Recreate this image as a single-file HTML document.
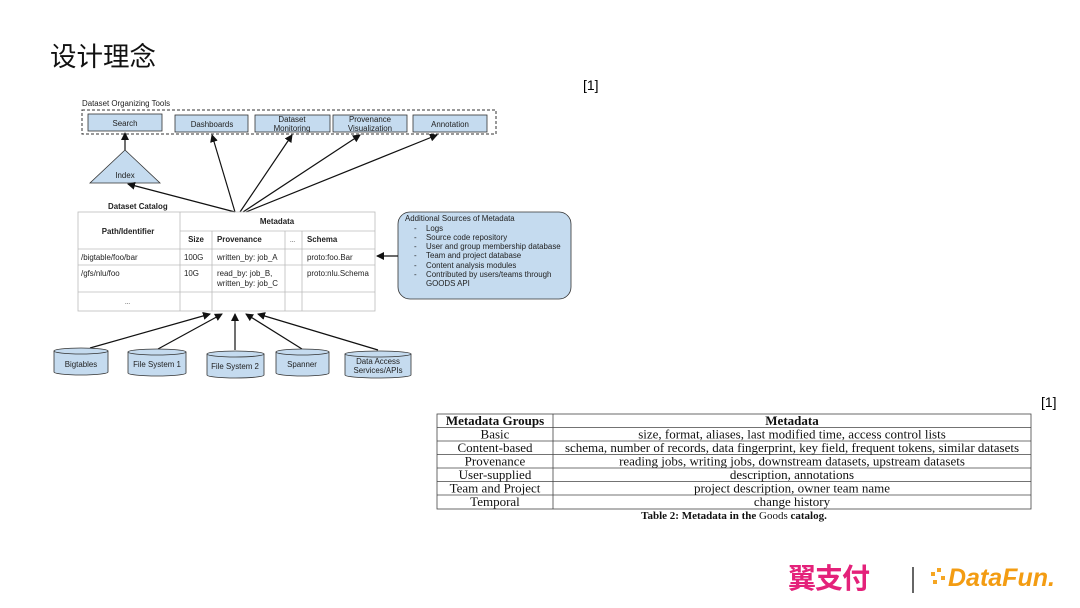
<!DOCTYPE html>
<html><head><meta charset="utf-8"><style>
body{margin:0;background:#fff;width:1080px;height:608px;overflow:hidden;position:relative;font-family:"Liberation Sans","Noto Sans CJK SC",sans-serif}
.t{position:absolute;white-space:nowrap}
</style></head><body>
<div class="t" style="left:50px;top:35px;font-size:26.5px;color:#111">设计理念</div>
<div class="t" style="left:583px;top:77px;font-size:14px">[1]</div>
<div class="t" style="left:1041px;top:394px;font-size:14px">[1]</div>
<svg width="1080" height="608" style="position:absolute;left:0;top:0" font-family="Liberation Sans, sans-serif">
<defs><marker id="a" markerWidth="8" markerHeight="8" refX="7" refY="4" orient="auto" markerUnits="userSpaceOnUse"><path d="M0,0L8,4L0,8z" fill="#111"/></marker></defs>
<g font-size="7.9" fill="#222">
<text x="82" y="106">Dataset Organizing Tools</text>
<rect x="82" y="110" width="414" height="24" fill="none" stroke="#333" stroke-dasharray="3,2"/>
<g fill="#c5dbef" stroke="#333" stroke-width="0.8">
<rect x="88" y="114" width="74" height="17"/><rect x="175" y="115" width="73" height="17"/><rect x="255" y="115" width="75" height="17"/><rect x="333" y="115" width="74" height="17"/><rect x="413" y="115" width="74" height="17"/>
<path d="M125,150L160,183L90,183z"/>
<rect x="398" y="212" width="173" height="87" rx="12"/>
</g>
<g text-anchor="middle">
<text x="125" y="126">Search</text><text x="212" y="127">Dashboards</text><text x="292" y="122">Dataset</text><text x="292" y="131">Monitoring</text>
<text x="370" y="122">Provenance</text><text x="370" y="131">Visualization</text><text x="450" y="127">Annotation</text>
<text x="125" y="178">Index</text>
</g>
<g stroke="#111" stroke-width="1.2" marker-end="url(#a)">
<line x1="125" y1="150" x2="125" y2="133"/>
<line x1="235" y1="212" x2="128" y2="184"/>
<line x1="235" y1="212" x2="212" y2="135"/>
<line x1="240" y1="212" x2="292" y2="135"/>
<line x1="243" y1="212" x2="360" y2="135"/>
<line x1="246" y1="212" x2="437" y2="135"/>
<line x1="398" y1="256" x2="377" y2="256"/>
<line x1="90" y1="348" x2="210" y2="314"/>
<line x1="158" y1="349" x2="222" y2="314"/>
<line x1="235" y1="350" x2="235" y2="314"/>
<line x1="302" y1="349" x2="246" y2="314"/>
<line x1="378" y1="350" x2="258" y2="314"/>
</g>
<text x="108" y="209" font-weight="bold">Dataset Catalog</text>
<g stroke="#bbb" stroke-width="0.8" fill="none">
<rect x="78" y="212" width="297" height="99"/>
<line x1="180" y1="212" x2="180" y2="311"/><line x1="180" y1="231" x2="375" y2="231"/>
<line x1="212" y1="231" x2="212" y2="311"/><line x1="285" y1="231" x2="285" y2="311"/><line x1="302" y1="231" x2="302" y2="311"/>
<line x1="78" y1="249" x2="375" y2="249"/><line x1="78" y1="265" x2="375" y2="265"/><line x1="78" y1="292" x2="375" y2="292"/>
</g>
<g font-weight="bold" text-anchor="middle"><text x="128" y="234">Path/Identifier</text><text x="277" y="224">Metadata</text><text x="196" y="242">Size</text></g>
<text x="217" y="242" font-weight="bold">Provenance</text><text x="290" y="242" font-size="6">...</text><text x="307" y="242" font-weight="bold">Schema</text>
<text x="81" y="260">/bigtable/foo/bar</text><text x="184" y="260">100G</text><text x="217" y="260">written_by: job_A</text><text x="307" y="260">proto:foo.Bar</text>
<text x="81" y="276">/gfs/nlu/foo</text><text x="184" y="276">10G</text><text x="217" y="276">read_by: job_B,</text><text x="217" y="286">written_by: job_C</text><text x="307" y="276">proto:nlu.Schema</text>
<text x="125" y="304" font-size="6">...</text>
<text x="405" y="221">Additional Sources of Metadata</text>
<g><text x="414" y="231">-</text><text x="426" y="231">Logs</text>
<text x="414" y="240">-</text><text x="426" y="240">Source code repository</text>
<text x="414" y="249">-</text><text x="426" y="249">User and group membership database</text>
<text x="414" y="258">-</text><text x="426" y="258">Team and project database</text>
<text x="414" y="268">-</text><text x="426" y="268">Content analysis modules</text>
<text x="414" y="277">-</text><text x="426" y="277">Contributed by users/teams through</text>
<text x="426" y="286">GOODS API</text></g>
<g fill="#c5dbef" stroke="#333" stroke-width="0.8">
<path d="M54,351v21a27,3 0 0 0 54,0v-21z"/><ellipse cx="81" cy="351" rx="27" ry="3"/>
<path d="M128,352v21a29,3 0 0 0 58,0v-21z"/><ellipse cx="157" cy="352" rx="29" ry="3"/>
<path d="M207,354v21a28.5,3 0 0 0 57,0v-21z"/><ellipse cx="235.5" cy="354" rx="28.5" ry="3"/>
<path d="M276,352v21a26.5,3 0 0 0 53,0v-21z"/><ellipse cx="302.5" cy="352" rx="26.5" ry="3"/>
<path d="M345,354v21a33,3 0 0 0 66,0v-21z"/><ellipse cx="378" cy="354" rx="33" ry="3"/>
</g>
<g text-anchor="middle"><text x="81" y="367">Bigtables</text><text x="157" y="367">File System 1</text><text x="235" y="369">File System 2</text><text x="302" y="367">Spanner</text><text x="378" y="364">Data Access</text><text x="378" y="373">Services/APIs</text></g>
</g>
<g font-family="Liberation Serif, serif" font-size="13" fill="#111" text-anchor="middle">
<g stroke="#444" stroke-width="0.8" fill="none">
<rect x="437" y="414" width="594" height="95"/><line x1="553" y1="414" x2="553" y2="509"/>
<line x1="437" y1="427.5" x2="1031" y2="427.5"/><line x1="437" y1="441" x2="1031" y2="441"/><line x1="437" y1="454.5" x2="1031" y2="454.5"/><line x1="437" y1="468" x2="1031" y2="468"/><line x1="437" y1="481.5" x2="1031" y2="481.5"/><line x1="437" y1="495" x2="1031" y2="495"/>
</g>
<text x="495" y="425" font-weight="bold">Metadata Groups</text><text x="792" y="425" font-weight="bold">Metadata</text>
<text x="495" y="438.5">Basic</text><text x="792" y="438.5">size, format, aliases, last modified time, access control lists</text>
<text x="495" y="452">Content-based</text><text x="792" y="452">schema, number of records, data fingerprint, key field, frequent tokens, similar datasets</text>
<text x="495" y="465.5">Provenance</text><text x="792" y="465.5">reading jobs, writing jobs, downstream datasets, upstream datasets</text>
<text x="495" y="479">User-supplied</text><text x="792" y="479">description, annotations</text>
<text x="495" y="492.5">Team and Project</text><text x="792" y="492.5">project description, owner team name</text>
<text x="495" y="506">Temporal</text><text x="792" y="506">change history</text>
<text x="734" y="519" font-size="11" font-weight="bold">Table 2: Metadata in the <tspan font-weight="normal">Goods</tspan> catalog.</text>
</g>
<line x1="913" y1="567" x2="913" y2="593" stroke="#333" stroke-width="1.5"/>
<g fill="#f5a623"><rect x="931" y="572" width="4" height="4"/><rect x="937" y="568" width="4" height="4"/><rect x="933" y="580" width="4" height="4"/><rect x="941" y="576" width="4" height="4"/></g>
</svg>
<div class="t" style="left:788px;top:560px;font-size:28px;font-weight:bold;color:#e4217a;font-family:'Noto Sans CJK SC',sans-serif;line-height:34px;letter-spacing:-1px">翼支付</div>
<div class="t" style="left:948px;top:563px;font-size:25px;font-weight:bold;color:#f39c12;line-height:30px;font-style:italic">DataFun.</div>
</body></html>
